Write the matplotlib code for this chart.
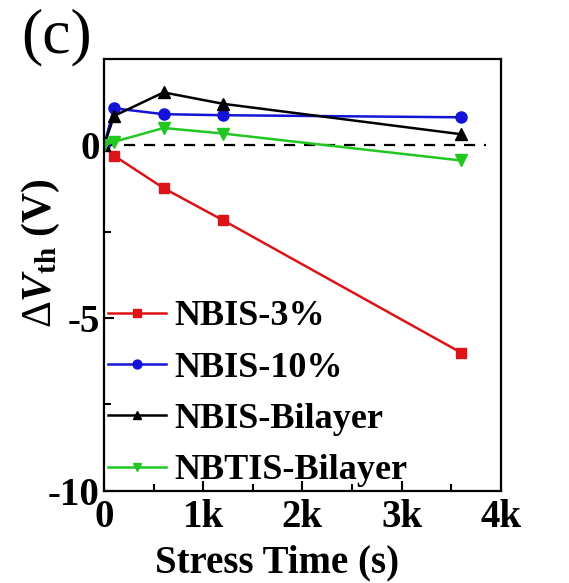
import matplotlib.pyplot as plt
import numpy as np

plt.rcParams['font.family'] = 'Liberation Serif'
plt.rcParams['font.weight'] = 'bold'
plt.rcParams['mathtext.fontset'] = 'custom'
plt.rcParams['mathtext.rm'] = 'Liberation Serif:weight=normal'
plt.rcParams['mathtext.it'] = 'Liberation Serif:italic:bold'
plt.rcParams['mathtext.bf'] = 'Liberation Serif:bold'

# stress time (s) and threshold voltage shift (V)
time = [0, 100, 600, 1200, 3600]
nbis_3 = [0, -0.30, -1.24, -2.17, -6.0]
nbis_10 = [0, 1.07, 0.90, 0.87, 0.81]
nbis_bilayer = [0, 0.85, 1.53, 1.20, 0.32]
nbtis_bilayer = [0, 0.10, 0.50, 0.34, -0.44]

labels = ['NBIS-3%', 'NBIS-10%', 'NBIS-Bilayer', 'NBTIS-Bilayer']
xticks = [0, 1000, 2000, 3000, 4000]
xticklabels = ['0', '1k', '2k', '3k', '4k']

fig = plt.figure(figsize=(5.69, 5.83), dpi=100)
ax = fig.add_axes([0.183, 0.158, 0.697, 0.741])

ax.plot([0, 3850], [0, 0], color='black', linestyle='--', linewidth=1.6, dashes=(5, 4))
ax.plot(time, nbis_3, color='#dc1418', marker='s', markersize=7, linewidth=1.8, label=labels[0])
ax.plot(time, nbis_10, color='#1414d8', marker='o', markersize=8, linewidth=1.8, label=labels[1])
ax.plot(time, nbis_bilayer, color='black', marker='^', markersize=8, linewidth=1.8, label=labels[2])
ax.plot(time, nbtis_bilayer, color='#22c822', marker='v', markersize=8, linewidth=1.8, label=labels[3])

ax.set_xlim(0, 4000)
ax.set_ylim(-10, 2.5)
ax.set_xticks(xticks)
ax.set_xticklabels(xticklabels)
ax.set_xticks([500, 1500, 2500, 3500], minor=True)
ax.set_yticks([-10, -5, 0])
ax.set_yticklabels(['-10', '-5', '0'])
ax.set_yticks([-7.5, -2.5], minor=True)
ax.tick_params(which='both', direction='in', labelsize=28, width=1.5)
ax.tick_params(axis='x', pad=6)
ax.tick_params(axis='y', pad=3)
ax.tick_params(which='major', length=7)
ax.tick_params(which='minor', length=5)
for s in ax.spines.values():
    s.set_linewidth(1.6)

ax.set_xlabel('Stress Time (s)', fontsize=28, fontweight='bold')
ax.xaxis.set_label_coords(0.435, -0.125)
ax.set_ylabel(r'$\Delta\mathit{V}_{\mathbf{th}}$ (V)', fontsize=30, fontweight='bold')
ax.yaxis.set_label_coords(-0.105, 0.55)

leg = ax.legend(loc='lower left', frameon=False, handlelength=1.6, markerscale=0.8,
                handletextpad=0.25, labelspacing=0.5, borderaxespad=0.0,
                borderpad=0.1, prop={'size': 26, 'weight': 'bold'})

fig.text(0.037, 0.985, '(c)', fontsize=46, fontweight='normal', va='top')

fig.savefig('out.png', dpi=100)
